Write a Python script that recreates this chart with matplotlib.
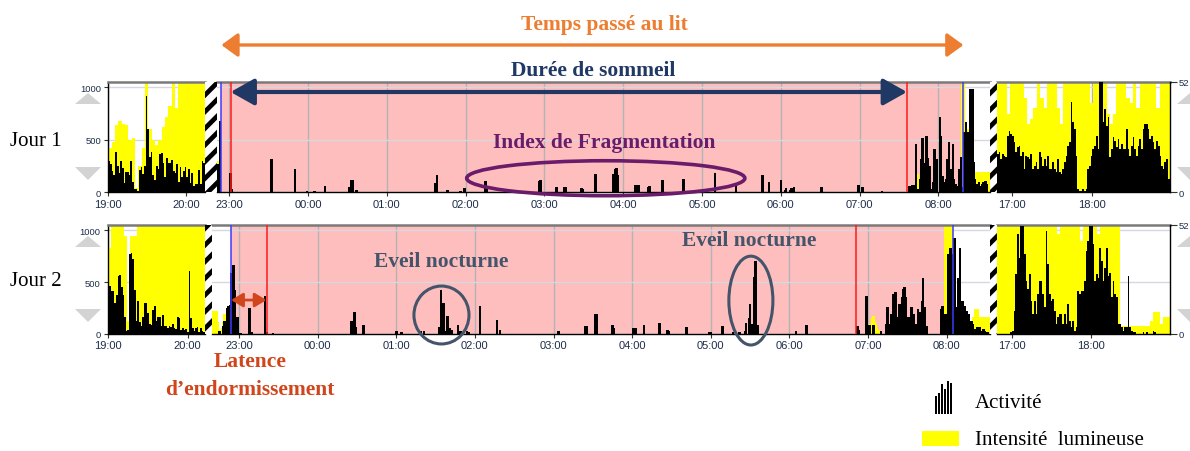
import numpy as np
import matplotlib
matplotlib.use("Agg")
import matplotlib.pyplot as plt
from matplotlib.patches import Rectangle, Ellipse, Polygon, ConnectionPatch
from matplotlib.transforms import blended_transform_factory
from matplotlib.ticker import FuncFormatter, FixedLocator

plt.rcParams['hatch.linewidth'] = 3.4
plt.rcParams['hatch.color'] = 'black'

# ============================ DATA ============================
# ---- Jour 1 ----
# evening 19:00 -> 20:15 (regular epochs)
j1_eve_act = [300, 270, 200, 160, 380, 250, 180, 300, 230, 90, 190, 190, 160, 300, 100,
              30, 30, 10, 210, 240, 170, 250, 920, 600, 340, 380, 160, 120, 250, 220,
              360, 370, 280, 150, 330, 280, 280, 310, 200, 180, 270, 100, 240, 150, 200,
              240, 150, 220, 90, 180, 60, 80, 80, 210, 80, 300, 280]
j1_eve_light = [420, 480, 640, 680, 650, 640, 500, 520, 40, 250, 420, 1050, 600, 500, 450,
                500, 620, 720, 820, 1050, 800, 1050, 1050, 1050, 1050, 1050, 1050, 1050, 1050]
# night (sparse epochs)
j1_night_t = ["22:51", "22:53", "23:01", "23:02", "23:32", "23:50", "23:59", "00:05", "00:13",
              "00:31", "00:33", "00:34", "00:37", "01:37", "01:38", "01:46", "01:56", "01:59",
              "02:15", "02:16", "02:56", "02:57", "03:09", "03:15", "03:16", "03:28", "03:29",
              "03:39", "03:52", "03:54", "03:55", "03:56", "04:09", "04:11", "04:12", "04:19",
              "04:20", "04:30", "04:46", "05:10", "05:26", "05:46", "05:51", "06:00", "06:03",
              "06:04", "06:07", "06:08", "06:10", "06:31", "06:59", "07:02", "07:17", "07:38",
              "07:40", "07:41", "07:43", "07:44", "07:46", "07:47", "07:48", "07:49", "07:51",
              "07:52", "07:53", "07:54", "07:56", "07:57", "07:58", "07:59", "08:01", "08:02",
              "08:03", "08:04", "08:06", "08:07", "08:08", "08:09", "08:11", "08:12", "08:13",
              "08:14", "08:16", "08:17", "08:18", "08:20", "08:21", "08:22", "08:23", "08:24",
              "08:26", "08:27", "08:28", "08:29", "08:31", "08:32", "08:33", "08:34", "08:36",
              "08:37"]
j1_night_act = [270, 680, 180, 30, 320, 220, 15, 10, 57,
                48, 117, 117, 20, 90, 168, 25, 15, 40,
                105, 60, 111, 120, 48, 48, 48, 40, 30,
                178, 175, 222, 231, 165, 73, 73, 73, 48,
                60, 114, 127, 187, 57, 165, 95, 120, 19,
                38, 25, 38, 51, 51, 73, 51, 16, 57,
                73, 73, 460, 30, 127, 317, 513, 280, 540,
                330, 250, 30, 95, 410, 285, 317, 713, 540,
                158, 95, 127, 317, 475, 222, 460, 127, 80,
                63, 222, 333, 48, 570, 665, 570, 95, 983,
                983, 285, 127, 80, 95, 63, 80, 95, 111,
                80]
j1_night_light_t = ["22:51", "22:52", "22:53", "03:53", "07:44", "08:18", "08:19", "08:20",
                    "08:21", "08:22", "08:28", "08:29", "08:30", "08:31", "08:32", "08:33",
                    "08:34", "08:35", "08:36", "08:37", "08:38"]
j1_night_light = [300, 300, 250, 175, 170, 1050, 1050, 665,
                  665, 600, 190, 190, 190, 190, 190, 190,
                  190, 190, 190, 190, 190]
# afternoon 16:49 -> 18:58
j1_day_act = [365, 380, 317, 365, 349, 333, 540, 586, 555, 540, 475, 380, 428, 444, 349,
              380, 222, 349, 333, 317, 365, 222, 254, 285, 222, 380, 333, 254, 317, 254,
              349, 222, 222, 285, 222, 190, 317, 190, 174, 222, 285, 349, 444, 475, 856,
              666, 602, 349, 32, 16, 16, 32, 16, 32, 222, 254, 349, 412, 444, 540,
              412, 1046, 1046, 666, 792, 634, 713, 333, 412, 523, 491, 428, 507, 412, 460,
              412, 412, 602, 412, 349, 444, 523, 412, 349, 444, 507, 412, 602, 650, 650,
              602, 507, 540, 475, 412, 491, 444, 349, 254, 222, 285, 317, 127]
j1_day_light = [1050, 1050, 1050, 750, 1050, 1050, 1050, 1050, 900, 650, 700, 800, 1050,
                900, 800, 1050, 1050, 1050, 800, 650, 1050, 1050, 1050, 1050, 1050, 1050,
                1050, 1050, 850, 1050, 1050, 1050, 1050, 750, 650, 750, 1050, 1050, 1050,
                900, 850, 1050, 800, 1050, 1050, 1050, 1050, 1050, 800, 1050, 1050, 1050]
j1_bed_in, j1_sleep_on, j1_sleep_off, j1_bed_out = "22:54", "23:01", "07:36", "08:19"

# ---- Jour 2 ----
j2_eve_act = [480, 460, 416, 416, 300, 380, 560, 570, 450, 380, 160, 30, 40, 770, 780,
              720, 420, 130, 320, 120, 80, 160, 300, 300, 200, 100, 90, 230, 270, 130,
              160, 160, 80, 180, 80, 80, 60, 80, 70, 100, 60, 50, 160, 150, 40,
              60, 40, 50, 20, 610, 150, 60, 30, 60, 70, 20, 60, 30, 20]
j2_eve_light = [830, 1050, 1050, 1050, 1050, 940, 130, 940, 940, 1050, 1050, 1050, 1050,
                1050, 1050, 1050, 1050, 1050, 1050, 1050, 1050, 1050, 1050, 1050, 1050,
                1050, 1050, 1050, 1050, 1050]
j2_night_t = ["22:45", "22:48", "22:49", "22:51", "22:52", "22:53", "22:54", "22:56", "22:57",
              "22:58", "22:59", "23:01", "23:08", "23:10", "23:20", "23:21", "23:26", "00:26",
              "00:28", "00:29", "00:35", "01:00", "01:04", "01:19", "01:21", "01:33", "01:34",
              "01:36", "01:37", "01:39", "01:41", "01:42", "01:47", "01:49", "01:54", "01:55",
              "02:04", "02:17", "02:19", "03:04", "03:24", "03:25", "03:32", "03:33", "03:45",
              "03:46", "04:01", "04:03", "04:09", "04:21", "04:27", "04:28", "04:41", "04:42",
              "04:59", "05:00", "05:09", "05:17", "05:22", "05:26", "05:27", "05:29", "05:30",
              "05:32", "05:33", "05:34", "05:36", "06:05", "06:13", "06:52", "06:53", "06:59",
              "07:01", "07:04", "07:10", "07:14", "07:15", "07:17", "07:18", "07:19", "07:21",
              "07:22", "07:23", "07:24", "07:26", "07:27", "07:28", "07:29", "07:31", "07:32",
              "07:33", "07:35", "07:36", "07:37", "07:38", "07:40", "07:41", "07:42", "07:43",
              "07:45", "07:56", "07:57", "07:59", "08:00", "08:01", "08:03", "08:04", "08:05",
              "08:06", "08:08", "08:09", "08:10", "08:12", "08:13", "08:14", "08:15", "08:17",
              "08:18", "08:19", "08:20", "08:22", "08:23", "08:24", "08:25", "08:27", "08:28",
              "08:29", "08:31"]
j2_night_act = [30, 80, 130, 250, 270, 280, 590, 660, 420,
                150, 160, 10, 250, 20, 370, 20, 10, 122,
                212, 64, 84, 26, 20, 32, 30, 64, 428,
                299, 32, 170, 58, 42, 84, 26, 26, 20,
                267, 132, 42, 26, 74, 74, 196, 196, 84,
                58, 58, 58, 90, 103, 35, 26, 64, 64,
                16, 20, 80, 16, 16, 26, 106, 154, 289,
                96, 550, 700, 90, 26, 90, 74, 35, 363,
                90, 90, 32, 96, 256, 96, 192, 384, 400,
                160, 96, 288, 352, 432, 448, 352, 160, 64,
                256, 192, 64, 96, 240, 208, 320, 544, 256,
                80, 240, 272, 192, 160, 768, 832, 768, 352,
                928, 256, 544, 832, 320, 256, 272, 224, 192,
                64, 128, 96, 48, 64, 48, 64, 32, 48,
                32, 16]
j2_night_light_t = ["22:40", "22:41", "22:42", "22:43", "22:44", "22:45", "22:46", "22:47",
                    "22:48", "22:49", "22:50", "22:51", "22:52", "22:53", "07:02", "07:03",
                    "07:04", "07:05", "07:06", "07:07", "07:08", "07:59", "08:00", "08:01",
                    "08:02", "08:03", "08:04", "08:20", "08:21", "08:22", "08:23", "08:24",
                    "08:25", "08:26", "08:27", "08:28", "08:29", "08:30", "08:31", "08:32"]
j2_night_light = [220, 220, 220, 220, 120, 40, 20, 60,
                  120, 190, 190, 190, 190, 100, 100, 154,
                  170, 120, 100, 60, 40, 1050, 1050, 1050,
                  1050, 1050, 1050, 160, 160, 240, 240, 240,
                  160, 160, 160, 160, 160, 160, 160, 160]
j2_day_act = [0, 0, 0, 0, 0, 0, 0, 0, 16, 32, 224, 576, 960, 736, 1040,
              1040, 768, 512, 432, 576, 320, 192, 320, 192, 384, 512, 512, 384, 256, 992,
              672, 384, 320, 336, 224, 96, 160, 192, 192, 96, 192, 96, 288, 128, 64,
              128, 32, 64, 416, 384, 416, 416, 512, 800, 896, 1040, 1040, 864, 512, 576,
              544, 832, 704, 512, 640, 832, 560, 592, 352, 512, 384, 352, 96, 96, 64,
              32, 64, 64, 560, 64, 32, 16, 16, 0, 0, 0, 0, 16, 0, 16,
              0, 0, 0, 32, 16, 0, 0, 0, 0, 0, 0, 0, 0]
j2_day_light = [1050, 1050, 1050, 1050, 1050, 1050, 1050, 1050, 1050, 1050, 1050, 1050,
                1050, 1050, 1050, 1050, 1050, 1050, 960, 1050, 1050, 1050, 1050, 1050,
                1050, 900, 1050, 1050, 1050, 1050, 960, 1050, 1050, 1050, 1050, 1050,
                1050, 80, 80, 80, 80, 80, 80, 80, 80, 80, 128, 208, 208, 96, 160, 160]
j2_bed_in, j2_sleep_on, j2_sleep_off, j2_bed_out = "22:54", "23:21", "06:51", "08:05"

row_labels = ["Jour 1", "Jour 2"]
left_ticks = [0, 500, 1000]
right_ticks = [0, 52]

# ============================ LAYOUT ============================
W, H = 1190, 452
fig = plt.figure(figsize=(W / 100, H / 100), dpi=100)
fig.patch.set_facecolor('white')

SERIF = 'Liberation Serif'
SANS = 'Liberation Sans'
TICKC = '#1e2d4a'
PINK = '#ffbebe'
YEL = '#ffff00'


def rect(x0, y0, x1, y1):
    return [x0 / W, 1 - y1 / H, (x1 - x0) / W, (y1 - y0) / H]


def fx(x):
    return x / W


def fy(y):
    return 1 - y / H


def hours(s):
    h, m = map(int, s.split(':'))
    v = h + m / 60.0
    return v + 24 if v < 12 else v


def hhmm(v, pos=None):
    return f"{int(round(v)) % 24:02d}:00"


rows = [
    dict(y0=82.7, y1=193.3,
         segs=[(108.3, 205.0, 19.0, 20.245), (217.0, 990.0, 22.844, 32.654),
               (997.0, 1169.5, 16.818, 18.958)],
         breaks=[(205.0, 217.0), (990.0, 997.0)],
         eve=(j1_eve_act, j1_eve_light),
         night=(j1_night_t, j1_night_act, j1_night_light_t, j1_night_light),
         day=(j1_day_act, j1_day_light),
         marks=(j1_bed_in, j1_sleep_on, j1_sleep_off, j1_bed_out),
         tri=((94, 105), (168, 181)), label_y=141),
    dict(y0=225.7, y1=335.0,
         segs=[(107.7, 205.0, 19.0, 20.216), (211.7, 990.0, 22.653, 32.551),
               (997.0, 1169.5, 16.814, 18.997)],
         breaks=[(205.0, 211.7), (990.0, 997.0)],
         eve=(j2_eve_act, j2_eve_light),
         night=(j2_night_t, j2_night_act, j2_night_light_t, j2_night_light),
         day=(j2_day_act, j2_day_light),
         marks=(j2_bed_in, j2_sleep_on, j2_sleep_off, j2_bed_out),
         tri=((237, 248), (310, 323)), label_y=281),
]

YMAX = 1053
NIGHT_W = 0.032
mid_axes = []

for r in rows:
    axes = []
    for i, (x0, x1, t0, t1) in enumerate(r['segs']):
        ax = fig.add_axes(rect(x0, r['y0'], x1, r['y1']))
        ax.set_xlim(t0, t1)
        ax.set_ylim(0, YMAX)
        ax.set_axisbelow(True)
        hrs = [h for h in range(int(np.ceil(t0)), int(np.floor(t1)) + 1)]
        ax.xaxis.set_major_locator(FixedLocator(hrs))
        ax.xaxis.set_major_formatter(FuncFormatter(hhmm))
        ax.set_yticks(left_ticks)
        ax.xaxis.grid(True, color='#b3b3b3', lw=1.0)
        ax.yaxis.grid(True, color='#d6d8e0', lw=1.0)
        ax.tick_params(axis='x', length=3, width=0.8, pad=1.5, labelsize=8,
                       labelcolor=TICKC, color='#333333')
        for lab in ax.get_xticklabels():
            lab.set_fontfamily(SANS)
        if i == 0:
            ax.tick_params(axis='y', length=3, width=0.8, pad=2, labelsize=6.8,
                           labelcolor=TICKC, color='#333333')
            for lab in ax.get_yticklabels():
                lab.set_fontfamily(SANS)
        else:
            ax.tick_params(axis='y', length=0, labelleft=False)
        for sp in ['left', 'right']:
            ax.spines[sp].set_visible(False)
        ax.spines['top'].set_color('#7a7a7a')
        ax.spines['top'].set_linewidth(1.8)
        ax.spines['bottom'].set_color('black')
        ax.spines['bottom'].set_linewidth(1.0)
        if i == 0:
            ax.spines['left'].set_visible(True)
            ax.spines['left'].set_color('black')
            ax.spines['left'].set_linewidth(1.0)
        axes.append(ax)

    ax_eve, ax_mid, ax_day = axes
    mid_axes.append(ax_mid)

    # evening / afternoon segments: regular epochs filling the segment
    for ax, (act, light) in ((ax_eve, r['eve']), (ax_day, r['day'])):
        t0, t1 = ax.get_xlim()
        tl = np.linspace(t0, t1, len(light), endpoint=False)
        wl = (t1 - t0) / len(light)
        ax.bar(tl, light, width=wl * 1.03, align='edge', color=YEL, lw=0, zorder=2)
        ta = np.linspace(t0, t1, len(act), endpoint=False)
        wa = (t1 - t0) / len(act)
        ax.bar(ta, act, width=wa * 1.03, align='edge', color='black', lw=0, zorder=3)

    # night segment
    nt, na, nlt, nl = r['night']
    bed_in, sleep_on, sleep_off, bed_out = [hours(s) for s in r['marks']]
    ax_mid.axvspan(bed_in, bed_out, color=PINK, lw=0, zorder=0.2)
    ax_mid.bar([hours(s) for s in nlt], nl, width=NIGHT_W, color=YEL, lw=0, zorder=2)
    ax_mid.bar([hours(s) for s in nt], na, width=NIGHT_W, color='black', lw=0, zorder=3)
    ax_mid.axvline(bed_in, color='#3c3cff', lw=1.1, zorder=4)
    ax_mid.axvline(bed_out, color='#3c3cff', lw=1.1, zorder=4)
    ax_mid.axvline(sleep_on, color='#ff1a1a', lw=1.1, zorder=4)
    ax_mid.axvline(sleep_off, color='#ff1a1a', lw=1.1, zorder=4)
    r['bed'] = (bed_in, sleep_on, sleep_off, bed_out)

    # right axis on the last segment
    axr = ax_day.twinx()
    axr.set_ylim(0, 52)
    axr.set_yticks(right_ticks)
    axr.tick_params(axis='y', length=5, width=0.8, pad=1.5, labelsize=6.8,
                    labelcolor=TICKC, color='#333333')
    for lab in axr.get_yticklabels():
        lab.set_fontfamily(SANS)
    for sp in ['left', 'top', 'bottom']:
        axr.spines[sp].set_visible(False)
    axr.spines['right'].set_color('black')
    axr.spines['right'].set_linewidth(1.0)

    # hatched breaks
    for (b0, b1) in r['breaks']:
        axb = fig.add_axes(rect(b0, r['y0'], b1, r['y1']))
        axb.set_axis_off()
        axb.add_patch(Rectangle((0, 0), 1, 1, transform=axb.transAxes, facecolor='white',
                                edgecolor='black', hatch='//', lw=0))

    # scroll triangles (decoration)
    (u0, u1), (d0, d1) = r['tri']
    for cx in (88, 1190):
        fig.add_artist(Polygon([(fx(cx - 13), fy(u1)), (fx(cx + 13), fy(u1)), (fx(cx), fy(u0))],
                               closed=True, transform=fig.transFigure, color='#d3d3d3', lw=0))
        fig.add_artist(Polygon([(fx(cx - 13), fy(d0)), (fx(cx + 13), fy(d0)), (fx(cx), fy(d1))],
                               closed=True, transform=fig.transFigure, color='#d3d3d3', lw=0))

    fig.text(fx(10), fy(r['label_y']), row_labels[rows.index(r)], family=SERIF,
             fontsize=15, ha='left', va='center', color='black')

# ============================ ANNOTATIONS ============================
ORANGE = '#ed7d31'
NAVY = '#1f3864'
PURPLE = '#6a1b6a'
SLATE = '#44546a'
RUST = '#d0451b'

ax1 = mid_axes[0]
ax2 = mid_axes[1]
b1 = rows[0]['bed']
b2 = rows[1]['bed']
tr1 = blended_transform_factory(ax1.transData, fig.transFigure)

fig.text(fx(604), fy(25), "Temps passé au lit", family=SERIF, weight='bold', fontsize=15.5,
         color=ORANGE, ha='center', va='center')
fig.add_artist(ConnectionPatch(xyA=(b1[0], fy(46)), coordsA=tr1, xyB=(b1[3], fy(46)), coordsB=tr1,
                               arrowstyle='<|-|>,head_length=0.55,head_width=0.4',
                               mutation_scale=18, color=ORANGE, lw=2.4))

fig.text(fx(593), fy(71), "Durée de sommeil", family=SERIF, weight='bold', fontsize=15.5,
         color=NAVY, ha='center', va='center')
fig.add_artist(ConnectionPatch(xyA=(b1[1], fy(93)), coordsA=tr1, xyB=(b1[2], fy(93)), coordsB=tr1,
                               arrowstyle='<|-|>,head_length=0.8,head_width=0.45',
                               mutation_scale=18, color=NAVY, lw=3.0, zorder=10))

fig.text(fx(604), fy(143), "Index de Fragmentation", family=SERIF, weight='bold', fontsize=15.5,
         color=PURPLE, ha='center', va='center')
ax1.add_patch(Ellipse((27.778, 134), 3.53, 333, fill=False, ec=PURPLE, lw=2.6,
                      clip_on=False, zorder=10))

fig.text(fx(441), fy(262), "Eveil nocturne", family=SERIF, weight='bold', fontsize=15.5,
         color=SLATE, ha='center', va='center')
fig.text(fx(749), fy(241), "Eveil nocturne", family=SERIF, weight='bold', fontsize=15.5,
         color=SLATE, ha='center', va='center')
ax2.add_patch(Ellipse((25.575, 183), 0.70, 558, fill=False, ec=SLATE, lw=2.2,
                      clip_on=False, zorder=10))
ax2.add_patch(Ellipse((29.51, 322), 0.56, 856, fill=False, ec=SLATE, lw=2.2,
                      clip_on=False, zorder=10))

ax2.annotate('', xy=(b2[0], 327), xytext=(b2[1], 327),
             arrowprops=dict(arrowstyle='<|-|>,head_length=0.5,head_width=0.3',
                             mutation_scale=14, color=RUST, lw=2.0, shrinkA=0, shrinkB=0),
             zorder=10)
fig.text(fx(250), fy(362), "Latence", family=SERIF, weight='bold', fontsize=15.5,
         color=RUST, ha='center', va='center')
fig.text(fx(250), fy(390), "d\u2019endormissement", family=SERIF, weight='bold', fontsize=15.5,
         color=RUST, ha='center', va='center')

# ============================ LEGEND ============================
legend_icon = [0.55, 0.65, 0.9, 0.75, 1.0, 0.95]
axi = fig.add_axes(rect(935, 382, 952, 415))
axi.bar(range(len(legend_icon)), legend_icon, width=0.75, color='black', lw=0)
axi.set_xlim(-0.5, len(legend_icon) - 0.5)
axi.set_ylim(0, 1)
axi.set_axis_off()
fig.text(fx(975), fy(404), "Activité", family=SERIF, fontsize=15, color='black',
         ha='left', va='center')
fig.add_artist(Rectangle((fx(922), fy(447.3)), (959.3 - 922) / W, 15.6 / H,
                         transform=fig.transFigure, color=YEL, lw=0))
fig.text(fx(975), fy(441), "Intensité  lumineuse", family=SERIF, fontsize=15, color='black',
         ha='left', va='center')

fig.savefig("out.png", dpi=100, facecolor='white')
